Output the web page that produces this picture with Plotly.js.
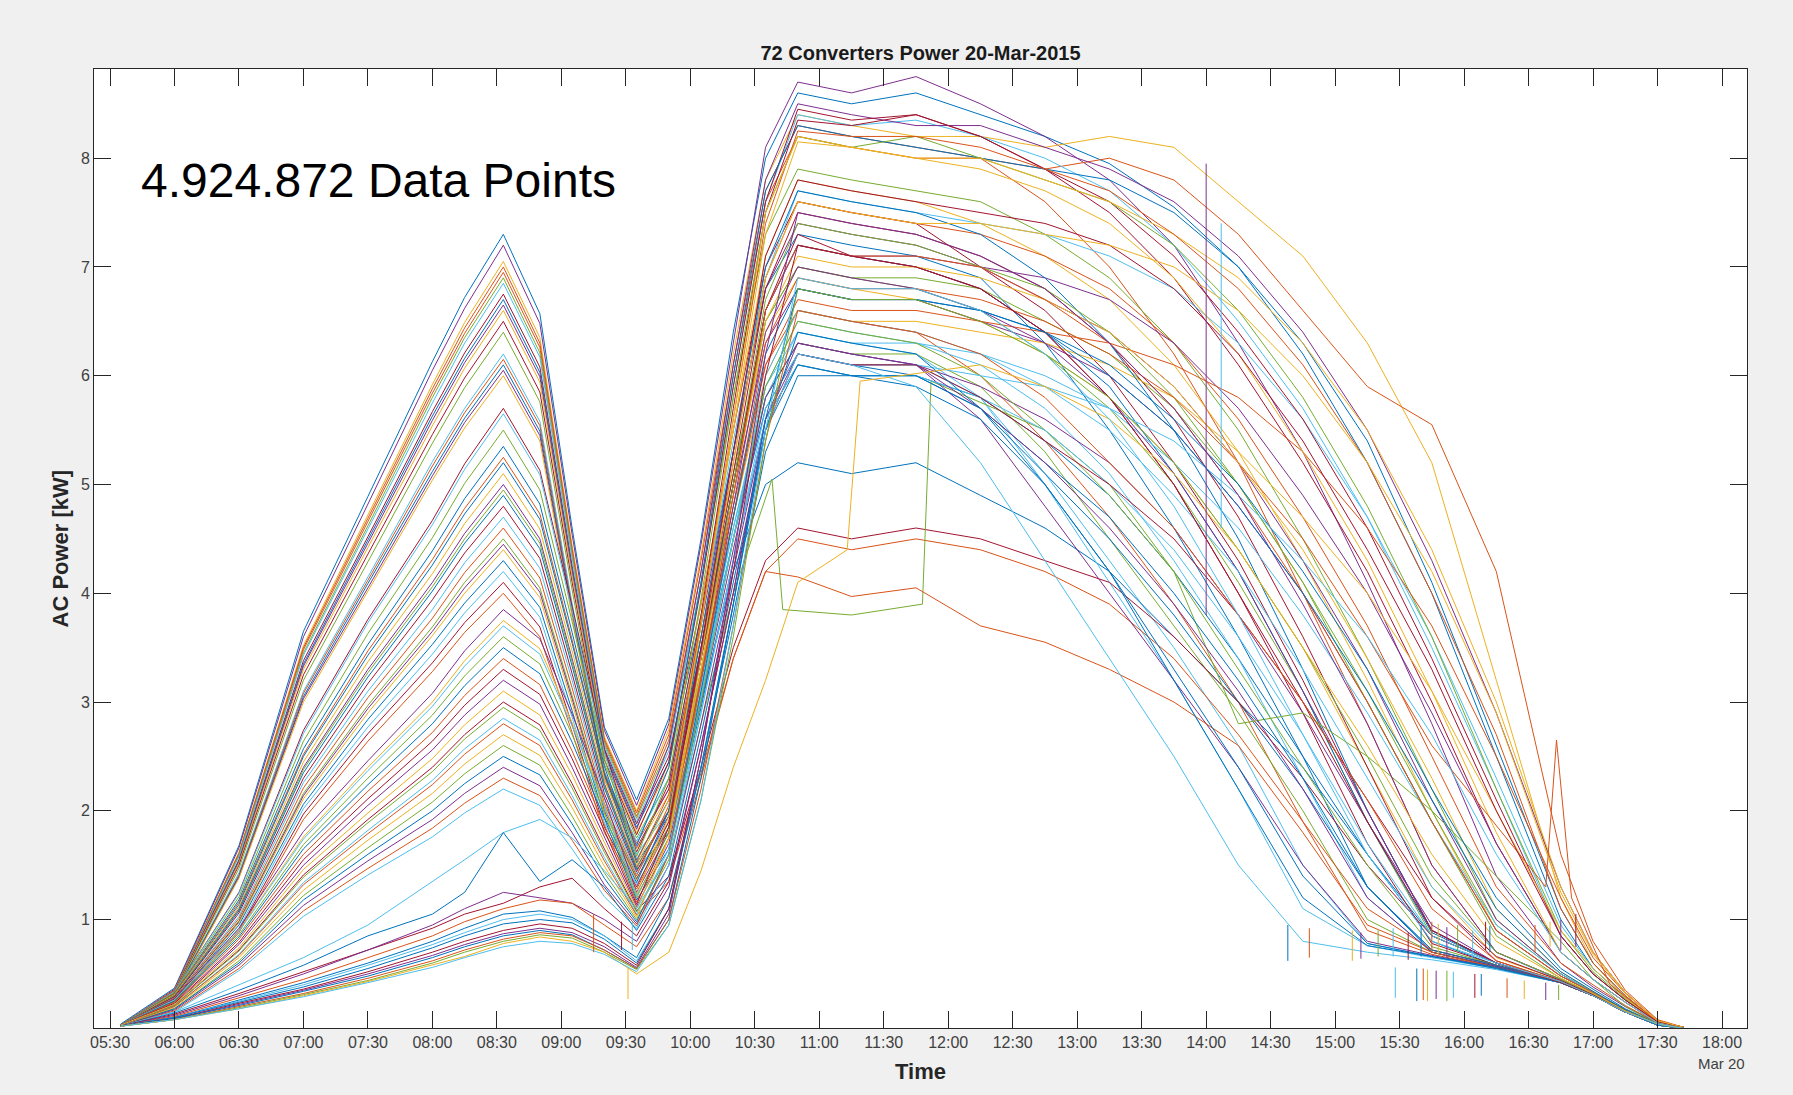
<!DOCTYPE html>
<html><head><meta charset="utf-8">
<script src="https://cdn.plot.ly/plotly-3.0.1.min.js"></script>
<style>html,body{margin:0;padding:0;background:#f0f0f0;}#chart{width:1793px;height:1095px;}</style>
</head><body><div id="chart"></div>
<script>
const day = '2015-03-20 ';
const sampleTimes = ['05:35','06:00','06:30','07:00','07:30','08:00','08:15','08:33','08:50','09:05','09:20','09:35','09:50','10:05','10:20','10:35','10:50','11:15','11:45','12:15','12:45','13:15','13:45','14:15','14:45','15:15','15:45','16:15','16:45','17:00','17:15','17:30','17:42'];
// converters whose output jumps abruptly are sampled at the jump instants
const sampleTimesGreenJump = ['05:35','06:00','06:30','07:00','07:30','08:00','08:15','08:33','08:50','09:05','09:20','09:35','09:50','10:05','10:20','10:38','10:43','11:15','11:48','11:52','12:45','13:15','13:45','14:15','14:45','15:15','15:45','16:15','16:45','17:00','17:15','17:30','17:42'];
const sampleTimesYellowJump = ['05:35','06:00','06:30','07:00','07:30','08:00','08:15','08:33','08:50','09:05','09:20','09:35','09:50','10:05','10:20','10:35','10:50','11:13','11:19','12:15','12:45','13:15','13:45','14:15','14:45','15:15','15:45','16:15','16:45','17:00','17:15','17:30','17:42'];
const sampleTimesBump = ['05:35','06:00','06:30','07:00','07:30','08:00','08:15','08:33','08:50','09:05','09:20','09:35','09:50','10:05','10:20','10:35','10:50','11:15','11:45','12:15','12:45','13:15','13:45','14:15','14:45','15:15','15:45','16:38','16:43','16:50','17:08','17:30','17:42'];
const xTickLabels = ['05:30','06:00','06:30','07:00','07:30','08:00','08:30','09:00','09:30','10:00','10:30','11:00','11:30','12:00','12:30','13:00','13:30','14:00','14:30','15:00','15:30','16:00','16:30','17:00','17:30','18:00'];
const yTickValues = [1,2,3,4,5,6,7,8];

const u01=[0.04,0.37,1.68,3.65,4.89,6.13,6.72,7.30,6.57,4.60,2.77,2.10,2.85,4.50,6.40,8.00,8.60,8.50,8.60,8.40,8.20,7.95,7.55,7.00,6.20,5.20,4.00,2.50,1.00,0.55,0.28,0.06,0.01];
const u02=[0.03,0.36,1.66,3.60,4.82,6.05,6.62,7.20,6.48,4.54,2.74,2.05,2.80,4.45,6.30,8.10,8.70,8.60,8.75,8.50,8.20,7.80,7.20,6.30,5.30,4.10,2.80,1.40,0.60,0.38,0.20,0.05,0.01];
const u03=[0.03,0.35,1.62,3.52,4.72,5.92,6.49,7.05,6.35,4.44,2.68,2.00,2.75,4.35,6.20,7.80,8.40,8.30,8.20,8.20,8.10,8.20,8.10,7.60,7.10,6.30,5.20,3.20,1.20,0.60,0.28,0.06,0.01];
const u04=[0.03,0.35,1.61,3.50,4.69,5.88,6.44,7.00,6.30,4.41,2.66,1.98,2.70,4.30,6.10,7.70,8.30,8.20,8.10,8.00,7.60,7.00,6.20,5.20,4.00,2.80,1.50,0.70,0.45,0.32,0.16,0.04,0.00];
const u05=[0.03,0.35,1.60,3.48,4.66,5.84,6.39,6.95,6.26,4.38,2.64,1.95,2.65,4.20,6.00,7.60,8.20,8.10,8.00,8.00,7.90,8.00,7.80,7.30,6.60,5.90,5.55,4.20,1.60,0.80,0.35,0.08,0.01];
const u06=[0.03,0.34,1.59,3.45,4.62,5.80,6.35,6.90,6.21,4.35,2.62,1.93,2.60,4.10,5.80,7.30,7.90,7.80,7.70,7.60,7.30,6.90,6.30,5.50,4.50,3.40,2.20,1.00,0.50,0.33,0.17,0.04,0.00];
const u07=[0.03,0.34,1.58,3.43,4.59,5.75,6.30,6.85,6.17,4.32,2.60,1.90,2.55,4.10,5.90,7.60,8.40,8.30,8.35,8.20,8.00,7.70,7.20,6.50,5.70,4.70,3.50,2.20,0.85,0.50,0.26,0.06,0.01];
const u08=[0.03,0.34,1.55,3.38,4.52,5.67,6.21,6.75,6.08,4.25,2.57,1.88,2.50,3.90,5.50,7.00,7.60,7.50,7.40,7.00,6.60,6.00,5.20,4.30,3.20,2.00,0.90,0.60,0.42,0.30,0.15,0.04,0.00];
const u09=[0.03,0.33,1.54,3.35,4.49,5.63,6.16,6.70,6.03,4.22,2.55,1.85,2.45,3.80,5.30,6.80,7.30,7.20,7.10,6.90,6.30,5.50,4.60,3.60,2.50,1.30,0.72,0.58,0.43,0.30,0.15,0.03,0.00];
const u10=[0.03,0.33,1.53,3.33,4.46,5.59,6.12,6.65,5.99,4.19,2.53,1.83,2.60,4.20,6.10,7.80,8.50,8.40,8.30,8.30,8.10,7.90,7.60,7.10,6.40,5.50,4.30,2.90,1.30,0.70,0.33,0.07,0.01];
const u11=[0.03,0.33,1.52,3.30,4.42,5.54,6.07,6.60,5.94,4.16,2.51,1.80,2.40,3.90,5.50,7.10,7.80,7.70,7.60,7.40,7.10,6.70,6.10,5.30,4.30,3.20,2.00,0.90,0.48,0.33,0.17,0.04,0.00];
const u12=[0.03,0.32,1.50,3.25,4.36,5.46,5.98,6.50,5.85,4.10,2.47,1.78,2.45,4.05,5.90,7.60,8.45,8.35,8.40,8.20,7.90,7.50,6.90,6.10,5.20,4.20,3.00,1.70,0.70,0.45,0.24,0.05,0.01];
const u13=[0.03,0.32,1.47,3.20,4.29,5.38,5.89,6.40,5.76,4.03,2.43,1.75,2.30,3.60,5.10,6.50,7.00,6.90,6.80,6.60,6.20,5.70,5.00,4.10,3.10,1.90,0.85,0.60,0.42,0.30,0.15,0.04,0.00];
const u14=[0.03,0.31,1.43,3.10,4.15,5.21,5.70,6.20,5.58,3.91,2.36,1.72,2.30,3.75,5.40,6.90,7.70,7.60,7.50,7.40,7.30,7.10,6.80,6.30,5.60,4.70,3.60,2.30,0.95,0.55,0.28,0.06,0.01];
const u15=[0.03,0.31,1.41,3.08,4.12,5.17,5.66,6.15,5.54,3.87,2.34,1.70,2.20,3.40,4.80,6.10,6.60,6.50,6.40,6.00,5.40,4.70,3.90,3.00,1.90,0.90,0.68,0.56,0.42,0.30,0.15,0.03,0.00];
const u16=[0.03,0.31,1.40,3.05,4.09,5.12,5.61,6.10,5.49,3.84,2.32,1.68,2.40,4.10,6.00,7.70,8.30,8.20,8.10,8.00,7.90,7.80,7.50,7.00,6.30,5.40,4.10,2.60,1.10,0.60,0.30,0.06,0.01];
const u17=[0.03,0.30,1.39,3.03,4.05,5.08,5.57,6.05,5.45,3.81,2.30,1.66,2.20,3.70,5.30,6.80,7.40,7.30,7.20,7.00,6.70,6.40,5.90,5.20,4.30,3.30,2.10,1.00,0.50,0.33,0.17,0.04,0.00];
const u18=[0.03,0.30,1.38,3.00,4.02,5.04,5.52,6.00,5.40,3.78,2.28,1.65,2.15,3.50,5.00,6.40,6.90,6.80,6.70,6.50,6.20,5.80,5.20,4.40,3.50,2.40,1.30,0.65,0.44,0.31,0.16,0.04,0.00];

const m01=[0.03,0.34,1.25,2.74,3.76,4.67,5.19,5.70,5.13,3.88,2.57,1.62,2.25,3.80,5.70,7.50,8.35,8.30,8.40,8.20,7.90,7.60,7.10,6.40,5.60,4.60,3.40,2.10,0.85,0.50,0.26,0.06,0.01];
const m02=[0.03,0.34,1.24,2.71,3.73,4.63,5.14,5.65,5.09,3.84,2.54,1.60,2.00,3.30,4.60,5.80,6.30,6.20,6.10,5.80,5.10,4.30,3.50,2.60,1.50,0.78,0.66,0.55,0.42,0.30,0.15,0.03,0.00];
const m03=[0.03,0.33,1.21,2.64,3.63,4.51,5.01,5.50,4.95,3.74,2.48,1.58,2.30,3.95,5.80,7.50,8.20,8.10,8.20,8.00,7.80,7.60,7.20,6.60,5.80,4.80,3.60,2.20,0.90,0.52,0.27,0.06,0.01];
const m04=[0.03,0.32,1.18,2.57,3.53,4.39,4.87,5.35,4.82,3.64,2.41,1.55,2.10,3.50,5.00,6.60,7.20,7.10,7.00,6.80,6.40,5.90,5.10,4.20,3.10,1.90,0.88,0.60,0.42,0.30,0.15,0.04,0.00];
const m05=[0.03,0.32,1.16,2.52,3.47,4.31,4.78,5.25,4.73,3.57,2.36,1.53,2.15,3.60,5.20,6.90,7.60,7.50,7.40,7.30,7.10,6.80,6.30,5.60,4.70,3.70,2.50,1.30,0.60,0.40,0.21,0.05,0.00];
const m06=[0.03,0.31,1.14,2.50,3.43,4.26,4.73,5.20,4.68,3.54,2.34,1.52,1.95,3.20,4.50,5.70,6.20,6.10,6.00,5.80,5.40,4.90,4.20,3.40,2.50,1.60,0.80,0.58,0.42,0.30,0.15,0.04,0.00];
const m07=[0.03,0.31,1.12,2.45,3.37,4.18,4.64,5.10,4.59,3.47,2.30,1.50,2.10,3.75,5.50,7.30,8.15,8.10,8.00,8.00,7.80,7.60,7.30,6.90,6.30,5.50,4.40,3.00,1.30,0.70,0.33,0.07,0.01];
const m08=[0.03,0.30,1.10,2.40,3.30,4.10,4.55,5.00,4.50,3.40,2.25,1.48,2.00,3.40,4.90,6.30,6.80,6.70,6.70,6.50,6.30,6.00,5.50,4.80,4.00,3.00,1.90,0.90,0.48,0.33,0.17,0.04,0.00];
const m09=[0.03,0.30,1.09,2.38,3.27,4.06,4.50,4.95,4.46,3.37,2.23,1.47,2.00,3.40,5.00,6.50,7.00,6.90,6.90,6.80,6.50,6.20,5.70,5.00,4.10,3.10,2.00,0.95,0.50,0.33,0.17,0.04,0.00];
const m10=[0.03,0.29,1.08,2.35,3.23,4.02,4.46,4.90,4.41,3.33,2.21,1.46,1.80,3.00,4.20,5.00,5.20,5.10,5.20,4.90,4.60,4.20,3.60,3.00,2.40,1.60,0.85,0.60,0.43,0.30,0.15,0.03,0.00];
const m11=[0.03,0.29,1.06,2.30,3.17,3.94,4.37,4.80,4.32,3.26,2.16,1.44,2.00,3.50,5.10,6.80,7.50,7.40,7.30,7.10,6.80,6.30,5.60,4.70,3.60,2.40,1.20,0.62,0.43,0.31,0.16,0.04,0.00];
const m12=[0.03,0.28,1.03,2.26,3.10,3.85,4.28,4.70,4.23,3.20,2.12,1.42,1.90,3.20,4.60,5.90,6.50,6.40,6.30,6.10,5.70,5.10,4.30,3.40,2.30,1.20,0.70,0.57,0.42,0.30,0.15,0.03,0.00];
const m13=[0.03,0.28,1.01,2.21,3.04,3.77,4.19,4.60,4.14,3.13,2.07,1.40,2.05,3.75,5.60,7.40,8.25,8.20,8.20,8.10,7.90,7.70,7.30,6.80,6.10,5.20,4.00,2.70,1.10,0.60,0.30,0.06,0.01];
const m14=[0.03,0.27,0.99,2.16,2.97,3.69,4.10,4.50,4.05,3.06,2.03,1.38,1.85,3.10,4.50,5.80,6.30,6.20,6.20,5.90,5.30,4.50,3.70,2.90,2.00,1.00,0.70,0.56,0.42,0.30,0.15,0.03,0.00];
const m15=[0.03,0.27,0.98,2.14,2.94,3.65,4.05,4.45,4.01,3.03,2.00,1.37,1.95,3.45,5.00,6.60,7.20,7.10,7.10,7.00,6.90,6.70,6.30,5.70,4.90,4.00,2.90,1.70,0.70,0.45,0.24,0.05,0.00];
const m16=[0.03,0.26,0.97,2.11,2.90,3.61,4.00,4.40,3.96,2.99,1.98,1.36,1.90,3.30,4.70,6.00,6.60,6.50,6.50,6.40,6.30,6.10,5.80,5.30,4.70,4.00,3.10,2.00,0.90,0.55,0.28,0.06,0.01];
const m17=[0.03,0.26,0.95,2.06,2.84,3.53,3.91,4.30,3.87,2.92,1.94,1.34,2.00,3.60,5.30,7.00,7.70,7.60,7.50,7.30,6.90,6.30,5.50,4.50,3.30,2.00,0.90,0.60,0.42,0.30,0.15,0.04,0.00];
const m18=[0.03,0.25,0.92,2.02,2.77,3.44,3.82,4.20,3.78,2.86,1.89,1.32,1.85,3.15,4.50,5.80,6.40,6.30,6.30,6.20,6.00,5.70,5.20,4.60,3.80,2.90,1.90,0.95,0.50,0.33,0.17,0.04,0.00];
const m19=[0.03,0.25,0.90,1.97,2.71,3.36,3.73,4.10,3.69,2.79,1.85,1.30,1.90,3.40,5.00,6.60,7.30,7.10,7.00,6.80,6.40,5.80,5.00,4.00,2.90,1.70,0.78,0.58,0.42,0.30,0.15,0.04,0.00];
const m20=[0.03,0.24,0.88,1.92,2.64,3.28,3.64,4.00,3.60,2.72,1.80,1.28,1.85,3.25,4.70,6.10,6.70,6.60,6.60,6.50,6.40,6.30,6.10,5.80,5.30,4.60,3.70,2.50,1.20,0.65,0.32,0.07,0.01];

const l01=[0.03,0.27,0.92,1.81,2.46,3.08,3.47,3.85,3.58,2.89,2.12,1.25,1.80,3.20,4.80,6.40,7.00,6.90,6.80,6.60,6.30,5.80,5.10,4.20,3.10,2.00,0.90,0.60,0.42,0.30,0.15,0.04,0.00];
const l02=[0.03,0.26,0.90,1.76,2.40,3.00,3.38,3.75,3.49,2.81,2.06,1.23,1.95,3.70,5.60,7.50,8.20,8.10,8.00,7.90,7.70,7.40,6.90,6.20,5.30,4.30,3.10,1.80,0.70,0.45,0.24,0.05,0.00];
const l03=[0.03,0.26,0.89,1.74,2.37,2.96,3.33,3.70,3.44,2.78,2.04,1.22,1.75,3.05,4.50,5.90,6.40,6.30,6.20,5.80,5.00,4.10,3.20,2.20,1.10,0.76,0.65,0.55,0.42,0.30,0.15,0.03,0.00];
const l04=[0.03,0.25,0.86,1.69,2.30,2.88,3.24,3.60,3.35,2.70,1.98,1.20,1.80,3.30,5.00,6.70,7.40,7.30,7.20,7.00,6.80,6.40,5.80,5.00,4.10,3.00,1.90,0.85,0.46,0.32,0.16,0.04,0.00];
const l05=[0.03,0.25,0.84,1.65,2.24,2.80,3.15,3.50,3.26,2.63,1.93,1.18,1.65,2.95,4.30,5.60,6.10,6.00,6.00,5.70,5.10,4.50,3.80,3.00,2.20,1.30,0.70,0.57,0.42,0.30,0.15,0.03,0.00];
const l06=[0.03,0.24,0.82,1.60,2.18,2.72,3.06,3.40,3.16,2.55,1.87,1.16,1.75,3.20,4.70,6.30,6.90,6.80,6.80,6.70,6.50,6.20,5.80,5.20,4.50,3.60,2.60,1.30,2.65,1.20,0.40,0.06,0.01];
const l07=[0.03,0.23,0.79,1.55,2.11,2.64,2.97,3.30,3.07,2.48,1.82,1.14,1.85,3.50,5.30,7.10,7.80,7.70,7.60,7.50,7.40,7.20,6.80,6.20,5.40,4.40,3.30,2.00,0.85,0.50,0.26,0.06,0.01];
const l08=[0.03,0.22,0.77,1.50,2.05,2.56,2.88,3.20,2.98,2.40,1.76,1.12,1.70,3.00,4.40,5.80,6.30,6.20,6.10,5.90,5.60,5.20,4.60,3.80,2.90,1.90,0.95,0.60,0.42,0.30,0.15,0.04,0.00];
const l09=[0.03,0.22,0.74,1.46,1.98,2.48,2.79,3.10,2.88,2.33,1.71,1.10,1.75,3.30,4.90,6.50,7.10,7.00,7.00,6.90,6.70,6.40,5.90,5.20,4.40,3.40,2.30,1.10,0.52,0.34,0.17,0.04,0.00];
const l10=[0.02,0.21,0.72,1.41,1.92,2.40,2.70,3.00,2.79,2.25,1.65,1.08,1.40,2.40,3.50,4.30,4.60,4.50,4.60,4.50,4.30,4.10,3.60,3.00,2.30,1.50,0.85,0.60,0.43,0.30,0.15,0.03,0.00];
const l11=[0.02,0.21,0.71,1.39,1.89,2.36,2.66,2.95,2.74,2.21,1.62,1.07,1.60,3.00,4.50,5.90,6.50,6.40,6.30,6.00,5.50,4.90,4.20,3.30,2.40,1.50,0.75,0.58,0.42,0.30,0.15,0.04,0.00];
const l12=[0.02,0.20,0.68,1.34,1.82,2.28,2.57,2.85,2.65,2.14,1.57,1.05,1.65,3.05,4.50,6.00,6.60,6.50,6.40,6.20,5.90,5.50,4.90,4.20,3.30,2.30,1.30,0.70,0.44,0.31,0.16,0.04,0.00];
const l13=[0.02,0.20,0.67,1.32,1.79,2.24,2.52,2.80,2.60,2.10,1.54,1.04,1.35,2.35,3.40,4.20,4.50,4.40,4.50,4.40,4.20,3.90,3.40,2.70,1.90,1.10,0.72,0.58,0.43,0.30,0.15,0.03,0.00];
const l14=[0.02,0.19,0.65,1.27,1.73,2.16,2.43,2.70,2.51,2.03,1.49,1.02,1.75,3.40,5.20,6.90,7.60,7.50,7.40,7.40,7.30,7.20,7.00,6.60,6.00,5.20,4.20,2.90,1.25,0.68,0.32,0.07,0.01];
const l15=[0.02,0.18,0.62,1.22,1.66,2.08,2.34,2.60,2.42,1.95,1.43,1.00,1.55,2.80,4.00,5.05,3.85,3.80,3.90,5.95,5.50,5.00,4.20,2.80,2.90,2.50,2.00,1.40,0.80,0.45,0.20,0.04,0.00];
const l16=[0.02,0.18,0.60,1.18,1.60,2.00,2.25,2.50,2.33,1.88,1.38,0.98,1.60,3.10,4.70,6.20,6.80,6.70,6.70,6.60,6.40,6.10,5.60,5.00,4.20,3.30,2.20,1.20,0.55,0.36,0.18,0.04,0.00];
const l17=[0.02,0.17,0.58,1.13,1.54,1.92,2.16,2.40,2.23,1.80,1.32,0.96,1.50,2.80,4.20,5.60,6.20,6.10,6.10,5.60,4.80,4.00,3.20,2.40,1.50,0.80,0.67,0.56,0.42,0.30,0.15,0.03,0.00];
const l18=[0.02,0.16,0.55,1.08,1.47,1.84,2.07,2.30,2.14,1.73,1.27,0.94,1.60,3.20,4.90,6.60,7.20,7.10,7.10,7.00,6.70,6.30,5.70,4.90,4.00,3.00,1.90,0.90,0.48,0.33,0.17,0.04,0.00];
const l19=[0.02,0.15,0.53,1.03,1.41,1.76,1.98,2.20,2.05,1.65,1.21,0.92,1.50,2.90,4.30,5.70,6.20,6.10,6.10,6.00,5.90,5.70,5.40,4.90,4.30,3.60,2.70,1.60,0.70,0.45,0.24,0.05,0.00];

const w01=[0.02,0.15,0.40,0.65,0.95,1.35,1.55,1.80,1.92,1.75,1.45,1.10,1.60,2.90,4.30,5.60,6.10,6.00,6.00,5.80,5.50,5.00,4.40,3.60,2.70,1.70,0.85,0.60,0.43,0.30,0.15,0.04,0.00];
const w02=[0.02,0.14,0.35,0.58,0.85,1.05,1.25,1.80,1.35,1.55,1.30,0.90,1.40,2.70,4.10,5.50,6.10,6.00,6.00,5.70,5.20,4.70,4.00,3.20,2.30,1.30,0.72,0.58,0.43,0.30,0.15,0.03,0.00];
const w03=[0.02,0.13,0.32,0.52,0.72,0.92,1.05,1.15,1.30,1.38,1.10,0.85,1.35,2.60,4.00,5.50,6.20,6.10,6.10,5.80,5.40,5.00,4.50,3.80,3.00,2.10,1.20,0.66,0.44,0.31,0.16,0.04,0.00];
const w04=[0.02,0.12,0.30,0.50,0.72,0.95,1.10,1.25,1.20,1.15,1.00,0.80,1.30,2.60,4.00,5.60,6.30,6.20,6.10,5.70,5.20,4.60,3.90,3.10,2.20,1.20,0.70,0.57,0.42,0.30,0.15,0.03,0.00];
const w05=[0.02,0.11,0.28,0.45,0.65,0.85,0.98,1.10,1.18,1.15,0.95,0.75,1.20,2.30,3.40,4.20,4.15,3.97,4.05,3.70,3.55,3.30,3.00,2.60,1.80,0.95,0.70,0.56,0.42,0.30,0.15,0.03,0.00];
const w06=[0.02,0.10,0.26,0.42,0.60,0.80,0.92,1.05,1.08,1.02,0.85,0.65,1.20,2.40,3.80,5.30,6.00,6.00,5.90,5.60,5.00,4.20,3.20,2.20,1.20,0.76,0.66,0.56,0.42,0.30,0.15,0.03,0.00];
const w07=[0.02,0.10,0.25,0.40,0.58,0.77,0.88,1.00,1.05,1.00,0.85,0.62,1.10,2.40,3.90,5.50,6.20,6.10,5.90,5.20,4.30,3.40,2.50,1.50,0.80,0.70,0.63,0.54,0.42,0.30,0.15,0.03,0.00];
const w08=[0.02,0.10,0.24,0.38,0.55,0.74,0.85,0.96,1.00,0.97,0.82,0.60,1.10,2.40,3.90,5.50,6.40,6.30,6.20,5.70,5.00,4.20,3.30,2.40,1.40,0.78,0.66,0.55,0.42,0.30,0.15,0.03,0.00];
const w09=[0.02,0.09,0.23,0.36,0.52,0.70,0.80,0.90,0.96,0.92,0.78,0.58,1.10,2.50,4.20,6.00,7.20,7.10,7.00,6.80,6.40,5.80,5.00,4.00,3.00,1.90,0.90,0.60,0.42,0.30,0.15,0.04,0.00];
const w10=[0.02,0.09,0.22,0.35,0.50,0.67,0.77,0.87,0.92,0.88,0.75,0.56,1.05,2.50,4.30,6.20,7.50,7.40,7.30,7.10,6.80,6.30,5.70,4.90,3.90,2.80,1.50,0.70,0.45,0.32,0.16,0.04,0.00];
const w11=[0.02,0.09,0.21,0.34,0.48,0.65,0.75,0.85,0.90,0.86,0.72,0.55,1.00,2.30,3.90,5.60,6.80,6.70,6.70,6.60,6.40,6.00,5.50,4.80,4.00,3.10,2.10,1.10,0.52,0.34,0.17,0.04,0.00];
const w12=[0.02,0.08,0.20,0.32,0.46,0.62,0.72,0.82,0.88,0.85,0.72,0.55,1.00,2.20,3.70,5.40,6.60,6.50,6.40,6.20,5.80,5.20,4.60,3.80,3.00,2.10,1.10,0.62,0.43,0.30,0.15,0.04,0.00];
const w13=[0.02,0.08,0.19,0.31,0.44,0.60,0.70,0.80,0.86,0.83,0.70,0.54,0.95,2.10,3.60,5.40,6.80,6.70,6.70,6.50,6.20,5.80,5.20,4.40,3.50,2.50,1.40,0.70,0.45,0.32,0.16,0.04,0.00];
const w14=[0.02,0.08,0.18,0.30,0.43,0.58,0.66,0.78,0.84,0.80,0.70,0.50,0.70,1.45,2.40,3.20,4.10,4.40,5.95,6.10,5.90,5.60,5.10,4.40,3.50,2.60,1.60,0.80,0.46,0.32,0.16,0.04,0.00];
const w15=[0.02,0.08,0.18,0.29,0.42,0.56,0.65,0.75,0.80,0.78,0.68,0.52,0.95,2.10,3.70,5.50,6.90,6.80,6.80,6.60,6.20,5.60,4.80,3.80,2.70,1.60,0.80,0.60,0.43,0.30,0.15,0.04,0.00];

// short dropouts (vertical glitches) in the recorded data
const spikeTimes=['09:15','09:28','09:31','09:33','14:00','14:07','14:38','14:48','15:08','15:12','15:20','15:27','15:34','15:40','15:45','15:48','15:52','15:57','16:04','16:10','16:12','16:33','16:40','16:45','16:52','15:28','15:38','15:41','15:43','15:47','15:52','15:55','16:05','16:08','16:20','16:28','16:38','16:44'];
const spikeTop=[1.05,0.98,0.55,0.98,7.95,7.40,0.95,0.92,0.90,0.88,0.90,0.92,0.88,0.95,0.98,0.96,0.93,0.95,0.90,0.98,0.94,0.95,0.98,1.00,1.05,0.56,0.55,0.55,0.54,0.53,0.53,0.52,0.50,0.50,0.46,0.44,0.42,0.40];
const spikeBottom=[0.70,0.72,0.27,0.72,3.80,4.60,0.62,0.65,0.62,0.64,0.66,0.66,0.63,0.66,0.70,0.68,0.65,0.70,0.64,0.72,0.70,0.70,0.75,0.72,0.75,0.28,0.25,0.26,0.25,0.27,0.25,0.28,0.28,0.30,0.28,0.27,0.26,0.26];

// styling
const palette=['#0072BD','#D95319','#EDB120','#7E2F8E','#77AC30','#4DBEEE','#A2142F'];
const seriesList=[u01,u02,u03,u04,u05,u06,u07,u08,u09,u10,u11,u12,u13,u14,u15,u16,u17,u18,
 m01,m02,m03,m04,m05,m06,m07,m08,m09,m10,m11,m12,m13,m14,m15,m16,m17,m18,m19,m20,
 l01,l02,l03,l04,l05,l06,l07,l08,l09,l10,l11,l12,l13,l14,l15,l16,l17,l18,l19,
 w01,w02,w03,w04,w05,w06,w07,w08,w09,w10,w11,w12,w13,w14,w15];
const seriesTimes=seriesList.map(s=> s===l15 ? sampleTimesGreenJump : s===w14 ? sampleTimesYellowJump : s===l06 ? sampleTimesBump : sampleTimes);
const colorIndex=[0,3,2,1,1,4,5,6,0,3,2,6,4,5,1,0,3,2,
 6,5,4,0,1,0,2,3,4,0,6,5,1,4,3,2,0,5,6,1,
 3,2,5,4,0,1,6,3,2,6,4,5,1,2,4,0,3,1,5,
 5,0,6,3,1,0,5,0,6,3,0,1,4,2,5];
const spikeColorIndex=[1,6,2,5,3,5,0,1,2,3,4,5,6,0,1,2,3,4,5,6,0,1,2,3,6,5,0,1,2,3,4,5,6,0,1,2,3,4];

const traces = seriesList.map((vals,i)=>({
  type:'scatter', mode:'lines', x:seriesTimes[i].map(t=>day+t), y:vals,
  line:{color:palette[colorIndex[i]], width:1}, hoverinfo:'skip', showlegend:false
}));
spikeTimes.forEach((t,i)=>{
  traces.push({type:'scatter', mode:'lines', x:[day+t, day+t], y:[spikeTop[i], spikeBottom[i]],
    line:{color:palette[spikeColorIndex[i]], width:1}, hoverinfo:'skip', showlegend:false});
});

const axisFont={family:'Arial, Liberation Sans, sans-serif', size:16, color:'#404040'};
const layout={
  width:1793, height:1095,
  paper_bgcolor:'#f0f0f0', plot_bgcolor:'#ffffff',
  margin:{l:94, r:46, t:69, b:67},
  showlegend:false,
  title:{text:'<b>72 Converters Power 20-Mar-2015</b>', x:0.5, xref:'paper', xanchor:'center',
    y:1-53/1095, yref:'container', yanchor:'middle',
    font:{family:'Arial, Liberation Sans, sans-serif', size:20, color:'#1a1a1a'}},
  xaxis:{type:'date', range:[day+'05:22:33', day+'18:11:38'],
    tickmode:'array', tickvals:xTickLabels.map(t=>day+t), ticktext:xTickLabels,
    ticks:'inside', ticklen:17, tickwidth:1, tickcolor:'#262626',
    showline:true, linecolor:'#262626', linewidth:1, mirror:'ticks',
    showgrid:false, zeroline:false, tickfont:axisFont, fixedrange:true},
  yaxis:{range:[0.003, 8.82], tickmode:'array', tickvals:yTickValues,
    ticktext:yTickValues.map(String),
    ticks:'inside', ticklen:17, tickwidth:1, tickcolor:'#262626',
    showline:true, linecolor:'#262626', linewidth:1, mirror:'ticks',
    showgrid:false, zeroline:false, tickfont:axisFont, fixedrange:true},
  annotations:[
    {text:'4.924.872 Data Points', xref:'paper', yref:'paper', x:(139-94)/1653, y:1-(181-69)/959,
     xanchor:'left', yanchor:'middle', showarrow:false,
     font:{family:'Arial, Liberation Sans, sans-serif', size:48, color:'#000000'}},
    {text:'Mar 20', xref:'paper', yref:'paper', x:1, y:-(1063-1028)/959, xanchor:'right', yanchor:'middle',
     showarrow:false, font:{family:'Arial, Liberation Sans, sans-serif', size:15, color:'#404040'}},
    {text:'<b>Time</b>', xref:'paper', yref:'paper', x:0.5, y:-(1071-1028)/959, xanchor:'center', yanchor:'middle',
     showarrow:false, font:{family:'Arial, Liberation Sans, sans-serif', size:22, color:'#262626'}},
    {text:'<b>AC Power [kW]</b>', xref:'paper', yref:'paper', x:-(94-60)/1653, y:0.5, xanchor:'center', yanchor:'middle',
     textangle:-90, showarrow:false, font:{family:'Arial, Liberation Sans, sans-serif', size:22, color:'#262626'}}
  ]
};
Plotly.newPlot('chart', traces, layout, {staticPlot:true, displayModeBar:false});
</script></body></html>
